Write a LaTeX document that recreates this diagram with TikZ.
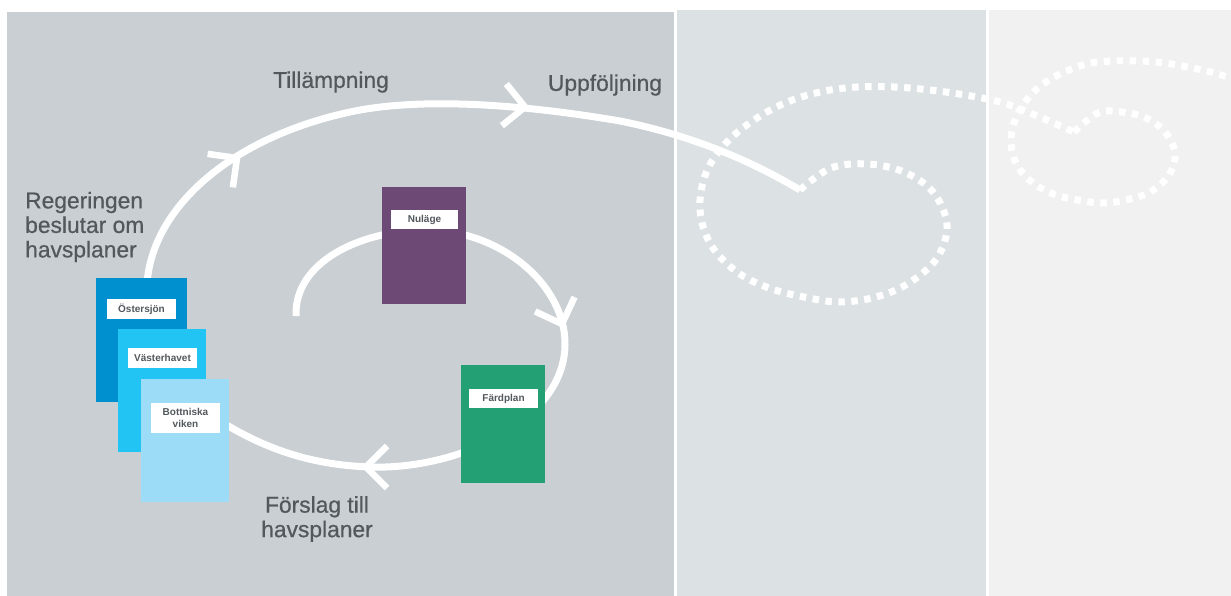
\documentclass[tikz,border=0pt]{standalone}
\usepackage{fontspec}
\setmainfont{Liberation Sans}
\newfontfamily\medfont[FakeBold=0.6]{Liberation Sans}
\definecolor{panelA}{HTML}{C9CFD2}
\definecolor{panelB}{HTML}{DCE1E3}
\definecolor{panelC}{HTML}{F1F1F1}
\definecolor{txt}{HTML}{52585C}
\definecolor{ost}{HTML}{008FCF}
\definecolor{vast}{HTML}{22C4F3}
\definecolor{bott}{HTML}{9DDCF7}
\definecolor{nul}{HTML}{6D4A75}
\definecolor{fard}{HTML}{23A174}
\tikzset{
  doc/.style={anchor=north west, inner sep=0pt, outer sep=0pt, draw=none},
  tag/.style={fill=white, inner sep=0pt, outer sep=0pt, minimum width=69pt, minimum height=20pt,
    font=\bfseries\fontsize{10}{12}\selectfont, text=txt, align=center},
  flow/.style={white, line width=7pt},
  dots/.style={white, line width=7pt, dash pattern=on 6.5pt off 6.5pt},
  lbl/.style={text=txt, inner sep=0pt, font=\medfont\fontsize{22.8}{24.5}\selectfont},
  chev/.pic={\draw[white, line width=6.5pt] (-21pt,21pt) -- (0pt,0pt) -- (-21pt,-21pt);}
}
\begin{document}
\begin{tikzpicture}[x=1pt,y=-1pt]
\useasboundingbox (0,0) rectangle (1231,596);
\fill[white] (0,0) rectangle (1231,596);
% panels
\fill[panelA] (7,12) rectangle (674,596);
\fill[panelB] (677,10) rectangle (986,596);
\fill[panelC] (989,10) rectangle (1231,596);
% inner cycle
\coordinate (inStart) at (296,316);
\coordinate (inEnd) at (225,424);
\draw[flow] (inStart) .. controls (294,262) and (360,231) .. (424,230)
  .. controls (500,229) and (566,285) .. (565,345)
  .. controls (564,420) and (460,470) .. (370,467)
  .. controls (310,465) and (265,448) .. (inEnd);
% big arc, solid part
\coordinate (arcStart) at (147,284);
\coordinate (arcEnd) at (800,190);
\draw[flow] (arcStart) .. controls (152,208) and (230,138) .. (350,112)
  .. controls (420,97) and (520,104) .. (620,121)
  .. controls (690,135) and (750,160) .. (arcEnd);
% dotted continuation
\coordinate (loopTip) at (1074,132);
\draw[dots] plot[smooth, tension=0.6] coordinates {(800,190) (831,168) (868,164) (904,172) (933,192) (947,225) (937,258) (909,283) (876,297) (839,302) (804,297) (769,288) (737,272) (711,245) (700,210) (706,173) (726,143) (754,120) (785,103) (820,92) (857,87) (894,87) (930,90) (965,95) (1000,102) (1035,115) (1074,132)};
\draw[dots] plot[smooth, tension=0.6] coordinates {(1074,132) (1098,113) (1122,112) (1146,118) (1165,132) (1175,153) (1169,175) (1150,192) (1126,200) (1102,203) (1078,200) (1056,195) (1033,183) (1017,165) (1011,143) (1015,120) (1028,98) (1046,82) (1069,70) (1091,63) (1115,61) (1141,61) (1165,63) (1187,67) (1211,72) (1233,79)};
% documents
\node[doc, fill=ost, minimum width=91pt, minimum height=124pt] (ostersjon) at (96,278) {};
\node[doc, fill=vast, minimum width=88pt, minimum height=123pt] (vasterhavet) at (118,329) {};
\node[doc, fill=bott, minimum width=88pt, minimum height=123pt] (bottniska) at (141,379) {};
\node[doc, fill=nul, minimum width=84pt, minimum height=117pt] (nulage) at (382,187) {};
\node[doc, fill=fard, minimum width=84pt, minimum height=118pt] (fardplan) at (461,365) {};
% tags
\node[tag] (ostersjonT) at (141.5,309) {Östersjön};
\node[tag] (vasterhavetT) at (162.5,358) {Västerhavet};
\node[tag, minimum height=30pt] (bottniskaT) at (185.5,418) {Bottniska\\viken};
\node[tag, minimum width=67pt, minimum height=19pt] (nulageT) at (424.5,219.5) {Nuläge};
\node[tag, minimum height=19pt] (fardplanT) at (503.5,398.5) {Färdplan};
% chevrons
\pic[rotate=37] at (237,158) {chev};
\pic[rotate=-6] at (525,107) {chev};
\pic[rotate=-70] at (562,324) {chev};
\pic[rotate=180] at (366,467) {chev};
% labels
\node[lbl] (tillampning) at (331,82) {Tillämpning};
\node[lbl] (uppfoljning) at (605,85) {Uppföljning};
\node[lbl, align=left, anchor=west] (regeringen) at (25,227) {Regeringen\\beslutar om\\havsplaner};
\node[lbl, align=center] (forslag) at (317,519) {Förslag till\\havsplaner};
\end{tikzpicture}
\end{document}
